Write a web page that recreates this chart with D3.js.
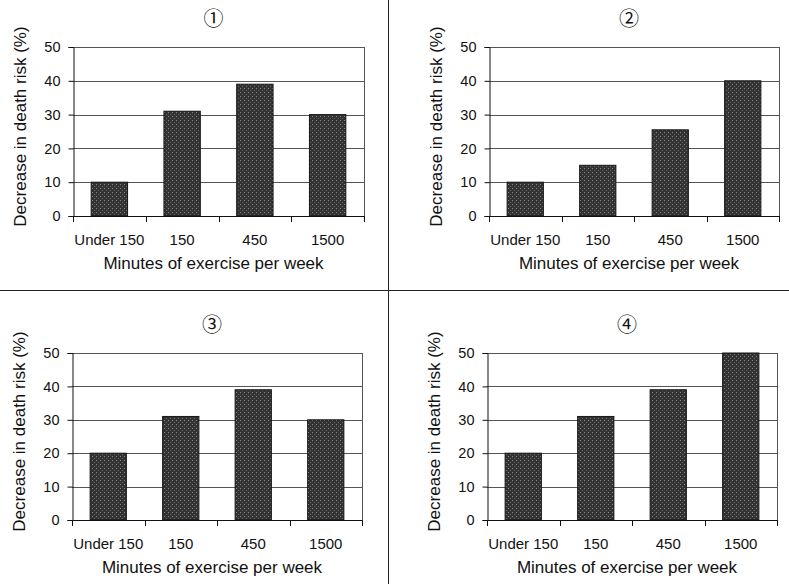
<!DOCTYPE html>
<html>
<head>
<meta charset="utf-8">
<script src="https://d3js.org/d3.v7.min.js"></script>
<style>
  body { margin: 0; background: #fff; }
  svg { display: block; }
  text { font-family: "Liberation Sans", Arial, sans-serif; fill: #111; }
</style>
</head>
<body>
<div class="chart"></div>
<script>
// categories and values of the four panels
const categories = ['Under 150', '150', '450', '1500'];
const panelTitles = ['\u2460', '\u2461', '\u2462', '\u2463'];
const values1 = [10, 31, 39, 30];
const values2 = [10, 15, 25.5, 40];
const values3 = [20, 31, 39, 30];
const values4 = [20, 31, 39, 50];
const yTicks = [0, 10, 20, 30, 40, 50];
const xTitle = 'Minutes of exercise per week';
const yTitle = 'Decrease in death risk (%)';

const width = 789;
const height = 584;

// plot boxes for each panel (left, right, top, bottom)
const panels = [
    { values: values1, title: panelTitles[0], left: 73, right: 364, top: 47, bottom: 216 },
    { values: values2, title: panelTitles[1], left: 489, right: 779, top: 47, bottom: 216 },
    { values: values3, title: panelTitles[2], left: 72, right: 362, top: 353, bottom: 520 },
    { values: values4, title: panelTitles[3], left: 487, right: 777, top: 353, bottom: 520 }
];

const svg = d3.select('.chart')
    .append('svg')
    .attr('width', width)
    .attr('height', height);

// stippled fill like the printed bars
const pat = svg.append('defs').append('pattern')
    .attr('id', 'stipple')
    .attr('width', 4).attr('height', 4)
    .attr('patternUnits', 'userSpaceOnUse');
pat.append('rect').attr('width', 4).attr('height', 4).attr('fill', '#333');
pat.append('rect').attr('x', 0).attr('y', 0).attr('width', 1).attr('height', 1).attr('fill', '#8a8a8a');
pat.append('rect').attr('x', 2).attr('y', 2).attr('width', 1).attr('height', 1).attr('fill', '#6a6a6a');

// panel dividers
svg.append('line')
    .attr('x1', 0).attr('x2', width)
    .attr('y1', 290.5).attr('y2', 290.5)
    .attr('stroke', '#222').attr('stroke-width', 1);
svg.append('line')
    .attr('x1', 388.5).attr('x2', 388.5)
    .attr('y1', 0).attr('y2', height)
    .attr('stroke', '#222').attr('stroke-width', 1);

panels.forEach(function(p) {
    const g = svg.append('g');

    const x = d3.scaleBand()
        .domain(categories)
        .range([p.left, p.right])
        .paddingInner(0.5)
        .paddingOuter(0.25);

    const y = d3.scaleLinear()
        .domain([0, 50])
        .range([p.bottom, p.top]);

    // gridlines
    g.selectAll('.grid')
        .data(yTicks.filter(d => d > 0))
        .enter().append('line')
        .attr('x1', p.left).attr('x2', p.right)
        .attr('y1', d => Math.round(y(d)) + 0.5)
        .attr('y2', d => Math.round(y(d)) + 0.5)
        .attr('stroke', '#555')
        .attr('stroke-width', 1);

    // right border of the plot area
    g.append('line')
        .attr('x1', p.right + 0.5).attr('x2', p.right + 0.5)
        .attr('y1', y(50)).attr('y2', y(0))
        .attr('stroke', '#555');

    // bars
    g.selectAll('.bar')
        .data(p.values)
        .enter().append('rect')
        .attr('x', (d, i) => x(categories[i]))
        .attr('y', d => y(d))
        .attr('width', x.bandwidth())
        .attr('height', d => y(0) - y(d))
        .attr('fill', 'url(#stipple)')
        .attr('stroke', '#161616')
        .attr('stroke-width', 1);

    // y axis
    const yAxis = d3.axisLeft(y)
        .tickValues(yTicks)
        .tickSize(5)
        .tickPadding(8);
    const ya = g.append('g')
        .attr('transform', 'translate(' + (p.left + 0.5) + ',0)')
        .call(yAxis);
    ya.select('.domain').attr('stroke', '#111');
    ya.selectAll('.tick line').attr('stroke', '#111');
    ya.selectAll('.tick text')
        .style('font-family', '"Liberation Sans", Arial, sans-serif')
        .style('font-size', '14.5px')
        .style('fill', '#111');

    // x axis: ticks at band edges
    const step = x.step();
    const edges = d3.range(categories.length + 1).map(i => p.left + i * step);
    g.append('line')
        .attr('x1', p.left).attr('x2', p.right)
        .attr('y1', y(0) + 0.5).attr('y2', y(0) + 0.5)
        .attr('stroke', '#111');
    g.selectAll('.xtick')
        .data(edges)
        .enter().append('line')
        .attr('x1', d => Math.round(d) + 0.5)
        .attr('x2', d => Math.round(d) + 0.5)
        .attr('y1', y(0))
        .attr('y2', y(0) + 6)
        .attr('stroke', '#111');
    g.selectAll('.xlabel')
        .data(categories)
        .enter().append('text')
        .attr('x', d => x(d) + x.bandwidth() / 2)
        .attr('y', y(0) + 29)
        .attr('text-anchor', 'middle')
        .style('font-size', '15px')
        .text(d => d);

    // axis titles
    g.append('text')
        .attr('x', (p.left + p.right) / 2 - 5)
        .attr('y', y(0) + 53)
        .attr('text-anchor', 'middle')
        .style('font-size', '17px')
        .text(xTitle);

    g.append('text')
        .attr('transform', 'translate(' + (p.left - 47) + ',' + ((p.top + p.bottom) / 2 - 5) + ') rotate(-90)')
        .attr('text-anchor', 'middle')
        .style('font-size', '17px')
        .text(yTitle);

    // panel title
    g.append('text')
        .attr('x', (p.left + p.right) / 2 - 5)
        .attr('y', p.top - 21)
        .attr('text-anchor', 'middle')
        .style('font-family', '"Noto Sans CJK JP", sans-serif')
        .style('font-size', '20px')
        .text(p.title);
});
</script>
</body>
</html>
